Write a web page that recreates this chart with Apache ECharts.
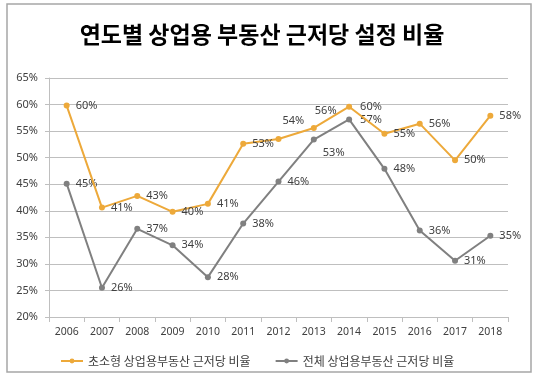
<!DOCTYPE html>
<html>
<head>
<meta charset="utf-8">
<script src="https://cdn.jsdelivr.net/npm/echarts@6/dist/echarts.min.js"></script>
<style>
html,body{margin:0;padding:0;background:#fff;}
#chart{width:540px;height:381px;}
</style>
</head>
<body>
<div id="chart"></div>
<script>
var titleText = '연도별 상업용 부동산 근저당 설정 비율';
var years = ['2006','2007','2008','2009','2010','2011','2012','2013','2014','2015','2016','2017','2018'];
var seriesSmallName = '초소형 상업용부동산 근저당 비율';
var seriesSmall = [59.8, 40.6, 42.8, 39.8, 41.3, 52.6, 53.5, 55.6, 59.6, 54.5, 56.4, 49.5, 57.9];
var seriesAllName = '전체 상업용부동산 근저당 비율';
var seriesAll = [45.1, 25.5, 36.6, 33.5, 27.5, 37.6, 45.5, 53.4, 57.2, 47.9, 36.3, 30.6, 35.3];
var yTicks = [20, 25, 30, 35, 40, 45, 50, 55, 60, 65];

// label offset adjustments (style only, keyed by index)
var smallLabelOffsets = {6: [-5, -18], 7: [-8, -17], 8: [2, 0]};
var allLabelOffsets = {7: [0, 13], 8: [2, 0]};

var ORANGE = '#EDA93A';
var GRAY = '#808080';
var TXT = '#404040';
var NUMFONT = '"Noto Sans", sans-serif';
var KRFONT = '"Noto Sans CJK KR", sans-serif';

function buildData(vals, offsets) {
  return vals.map(function (v, i) {
    var d = {value: v};
    if (offsets[i]) d.label = {offset: offsets[i]};
    return d;
  });
}

var chart = echarts.init(document.getElementById('chart'), null, {renderer: 'canvas'});
var labelCommon = {
  show: true,
  position: 'right',
  distance: 6,
  color: TXT,
  fontSize: 11,
  fontFamily: NUMFONT,
  formatter: function (p) { return Math.round(p.value) + '%'; }
};
chart.setOption({
  animation: false,
  backgroundColor: '#fff',
  graphic: [
    {type: 'rect', shape: {x: 7, y: 4, width: 524, height: 368},
     style: {fill: 'none', stroke: '#a6a6a6', lineWidth: 1.5}, z: 100},
    {type: 'text', x: 262, y: 34,
     style: {text: titleText, font: 'bold 23px "Noto Sans CJK KR"', fill: '#000',
             textAlign: 'center', textVerticalAlign: 'middle'}}
  ],
  legend: {
    left: 55,
    top: 350,
    itemWidth: 22,
    itemHeight: 6,
    itemGap: 24,
    textStyle: {color: TXT, fontSize: 12, fontFamily: KRFONT},
    data: [seriesSmallName, seriesAllName]
  },
  grid: {left: 49, right: 32, top: 78, bottom: 64, containLabel: false},
  xAxis: {
    type: 'category',
    data: years,
    boundaryGap: true,
    axisLine: {lineStyle: {color: '#bfbfbf', width: 1}},
    axisTick: {show: true, length: 5, lineStyle: {color: '#bfbfbf'}},
    axisLabel: {color: TXT, fontSize: 10.5, fontFamily: NUMFONT, margin: 10}
  },
  yAxis: {
    type: 'value',
    min: yTicks[0],
    max: yTicks[yTicks.length - 1],
    interval: 5,
    axisLine: {show: true, lineStyle: {color: '#bfbfbf', width: 1}},
    axisTick: {show: true, length: 4, lineStyle: {color: '#bfbfbf'}},
    splitLine: {lineStyle: {color: '#bfbfbf', width: 1}},
    axisLabel: {color: TXT, fontSize: 11, fontFamily: NUMFONT, margin: 11,
                formatter: '{value}%'}
  },
  series: [
    {
      name: seriesSmallName,
      type: 'line',
      data: buildData(seriesSmall, smallLabelOffsets),
      symbol: 'circle',
      symbolSize: 6,
      lineStyle: {color: ORANGE, width: 2},
      itemStyle: {color: ORANGE},
      label: labelCommon,
      z: 3
    },
    {
      name: seriesAllName,
      type: 'line',
      data: buildData(seriesAll, allLabelOffsets),
      symbol: 'circle',
      symbolSize: 6,
      lineStyle: {color: GRAY, width: 2},
      itemStyle: {color: GRAY},
      label: labelCommon,
      z: 2
    }
  ]
});
</script>
</body>
</html>
